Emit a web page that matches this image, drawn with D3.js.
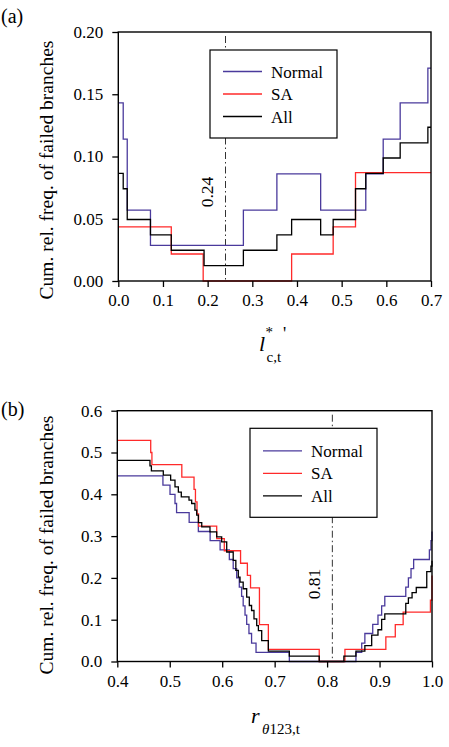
<!DOCTYPE html>
<html><head><meta charset="utf-8">
<script src="https://cdn.jsdelivr.net/npm/d3@7"></script>
<style>body{margin:0;background:#fff}svg{display:block}text{font-family:"Liberation Serif","Times New Roman",serif;fill:#000}</style>
</head><body>
<script>
// ---------- Panel (a) data ----------
const aXTicks = [0,0.1,0.2,0.3,0.4,0.5,0.6,0.7];
const aYTicks = [0,0.05,0.10,0.15,0.20];
const aNormalX = [0,0.011,0.020,0.072,0.280,0.355,0.453,0.554,0.593,0.631,0.693];
const aNormalY = [0.143,0.114,0.057,0.0286,0.057,0.086,0.057,0.086,0.114,0.143,0.171];
const aSAX = [0,0.1186,0.190,0.388,0.481,0.531];
const aSAY = [0.0435,0.0217,0,0.0217,0.0435,0.087];
const aAllX = [0,0.011,0.020,0.072,0.1186,0.192,0.280,0.355,0.388,0.453,0.481,0.531,0.554,0.593,0.631,0.693];
const aAllY = [0.0864,0.0741,0.0494,0.037,0.0247,0.0123,0.0247,0.037,0.0494,0.037,0.0494,0.0741,0.0864,0.0988,0.111,0.1235];
const aThreshold = 0.24;

// ---------- Panel (b) data ----------
const bXTicks = [0.4,0.5,0.6,0.7,0.8,0.9,1.0];
const bYTicks = [0,0.1,0.2,0.3,0.4,0.5,0.6];
const bNormalX = [0.4,0.487,0.5005,0.510,0.513,0.537,0.5545,0.577,0.596,0.6136,0.621,0.6276,0.6326,0.637,0.640,0.6435,0.6467,0.651,0.656,0.6645,0.728,0.855,0.866,0.872,0.887,0.897,0.904,0.910,0.950,0.955,0.960,0.965,0.995,0.998,1.0];
const bNormalY = [0.444,0.422,0.400,0.378,0.356,0.333,0.311,0.289,0.267,0.244,0.222,0.200,0.178,0.156,0.133,0.111,0.089,0.067,0.044,0.022,0,0.022,0.044,0.067,0.089,0.111,0.133,0.156,0.178,0.200,0.222,0.244,0.267,0.289,0.311];
const bSAX = [0.4,0.4637,0.466,0.523,0.5463,0.549,0.552,0.555,0.5895,0.604,0.635,0.648,0.654,0.671,0.688,0.785,0.834,0.912,0.930,0.945,0.997,1.0];
const bSAY = [0.529,0.500,0.471,0.441,0.412,0.382,0.353,0.324,0.294,0.265,0.235,0.206,0.176,0.088,0.029,0,0.029,0.059,0.088,0.118,0.147,0.206];
const bAllX = [0.4,0.4623,0.465,0.4877,0.5017,0.510,0.5164,0.522,0.5367,0.5418,0.548,0.5514,0.5545,0.561,0.5767,0.5895,0.599,0.6086,0.621,0.626,0.6307,0.634,0.640,0.6467,0.6517,0.656,0.6606,0.6658,0.669,0.6753,0.688,0.728,0.785,0.832,0.855,0.872,0.885,0.897,0.904,0.910,0.950,0.955,0.962,0.970,0.990,0.998,1.0];
const bAllY = [0.481,0.468,0.456,0.446,0.434,0.418,0.405,0.394,0.386,0.378,0.362,0.350,0.332,0.322,0.310,0.298,0.286,0.262,0.242,0.218,0.202,0.190,0.174,0.154,0.134,0.122,0.102,0.086,0.074,0.050,0.025,0.0127,0,0.0127,0.025,0.038,0.063,0.076,0.101,0.114,0.139,0.152,0.165,0.177,0.215,0.228,0.241];
const bThreshold = 0.81;

const seriesNames = ["Normal","SA","All"];
const colors = {Normal:"#4a3a9c", SA:"#ff2a2a", All:"#000000"};
const FONT = '"Liberation Serif","Times New Roman",serif';

const svg = d3.select("body").append("svg").attr("width",449).attr("height",747)
  .attr("font-family",FONT);

function panel(cfg){
  const x = d3.scaleLinear().domain(cfg.xDomain).range([cfg.left,cfg.right]);
  const y = d3.scaleLinear().domain(cfg.yDomain).range([cfg.bottom,cfg.top]);
  const g = svg.append("g");
  // threshold line
  g.append("line").attr("x1",x(cfg.thr)).attr("x2",x(cfg.thr))
    .attr("y1",y(cfg.yDomain[1])+cfg.thrTopPad).attr("y2",y(0))
    .attr("stroke","#333").attr("stroke-width",1).attr("stroke-dasharray","7,3,1.5,3");
  g.append("text").attr("transform",`translate(${x(cfg.thr)-cfg.thrLabelDx},${cfg.thrLabelY}) rotate(-90)`)
    .attr("text-anchor","middle").attr("font-size",17.5).text(cfg.thrLabel);
  // series
  const line = d3.line().x(d=>x(d[0])).y(d=>y(d[1])).curve(d3.curveStepAfter);
  cfg.series.forEach(s=>{
    const pts = s.xs.map((v,i)=>[v,s.ys[i]]);
    if (s.xs[s.xs.length-1] < cfg.xDomain[1]) pts.push([cfg.xDomain[1], s.ys[s.ys.length-1]]);
    g.append("path").attr("d",line(pts)).attr("fill","none")
      .attr("stroke",colors[s.name]).attr("stroke-width",1.3);
  });
  // axes
  const xa = g.append("g").attr("transform",`translate(0,${cfg.bottom})`)
    .call(d3.axisBottom(x).tickValues(cfg.xTicks).tickFormat(d3.format(".1f")).tickSize(6).tickPadding(7));
  const ya = g.append("g").attr("transform",`translate(${cfg.left},0)`)
    .call(d3.axisLeft(y).tickValues(cfg.yTicks).tickFormat(d3.format(cfg.yFmt)).tickSize(6).tickPadding(9));
  [xa,ya].forEach(a=>{
    a.attr("font-family",FONT).attr("font-size",17);
    a.select(".domain").remove();
    a.selectAll("line").attr("stroke","#000").attr("stroke-width",1.3);
  });
  g.append("rect").attr("x",cfg.left).attr("y",cfg.top).attr("width",cfg.right-cfg.left)
    .attr("height",cfg.bottom-cfg.top).attr("fill","none").attr("stroke","#000").attr("stroke-width",1.4);
  // legend
  const L = cfg.legend;
  g.append("rect").attr("x",L.x).attr("y",L.y).attr("width",L.w).attr("height",L.h)
    .attr("fill","#fff").attr("stroke","#000").attr("stroke-width",1.2);
  seriesNames.forEach((n,i)=>{
    const yy = L.y + L.row0 + i*L.dy;
    g.append("line").attr("x1",L.x+13).attr("x2",L.x+52).attr("y1",yy).attr("y2",yy)
      .attr("stroke",colors[n]).attr("stroke-width",1.3);
    g.append("text").attr("x",L.x+61).attr("y",yy+6).attr("font-size",17).text(n);
  });
  // y label
  g.append("text").attr("transform",`translate(${cfg.yLabelX},${cfg.yLabelY}) rotate(-90)`)
    .attr("text-anchor","middle").attr("font-size",19.5).text("Cum. rel. freq. of failed branches");
  // panel tag
  g.append("text").attr("x",1).attr("y",cfg.tagY).attr("font-size",20).text(cfg.tag);
  return {x,y,g};
}

panel({xDomain:[0,0.7], yDomain:[0,0.2], left:118.3, right:431, top:32, bottom:281,
  xTicks:aXTicks, yTicks:aYTicks, yFmt:".2f", thr:aThreshold, thrLabel:"0.24", thrLabelDx:13, thrLabelY:192, thrTopPad:4,
  series:[{name:"Normal",xs:aNormalX,ys:aNormalY},{name:"SA",xs:aSAX,ys:aSAY},{name:"All",xs:aAllX,ys:aAllY}],
  legend:{x:210,y:50,w:127,h:88,row0:21.5,dy:22.5}, yLabelX:53, yLabelY:170, tag:"(a)", tagY:23});

panel({xDomain:[0.4,1.0], yDomain:[0,0.6], left:117.3, right:432, top:410.7, bottom:661.5,
  xTicks:bXTicks, yTicks:bYTicks, yFmt:".1f", thr:bThreshold, thrLabel:"0.81", thrLabelDx:12, thrLabelY:584, thrTopPad:4,
  series:[{name:"Normal",xs:bNormalX,ys:bNormalY},{name:"SA",xs:bSAX,ys:bSAY},{name:"All",xs:bAllX,ys:bAllY}],
  legend:{x:250,y:428.3,w:127,h:89,row0:22.5,dy:22.5}, yLabelX:53, yLabelY:545, tag:"(b)", tagY:416});

// x-axis titles
svg.append("text").attr("x",259).attr("y",351).attr("font-size",22).attr("font-style","italic").text("l");
svg.append("text").attr("x",265.5).attr("y",337).attr("font-size",15).text("*");
svg.append("text").attr("x",266.5).attr("y",362).attr("font-size",15).text("c,t");
svg.append("text").attr("x",283).attr("y",340).attr("font-size",18).text("'");

const rt = svg.append("text").attr("x",251).attr("y",723).attr("font-size",22);
rt.append("tspan").attr("font-style","italic").text("r");
const sub = svg.append("text").attr("x",262).attr("y",734).attr("font-size",15);
sub.append("tspan").attr("font-style","italic").text("θ");
sub.append("tspan").text("123,t");
</script>
</body></html>
